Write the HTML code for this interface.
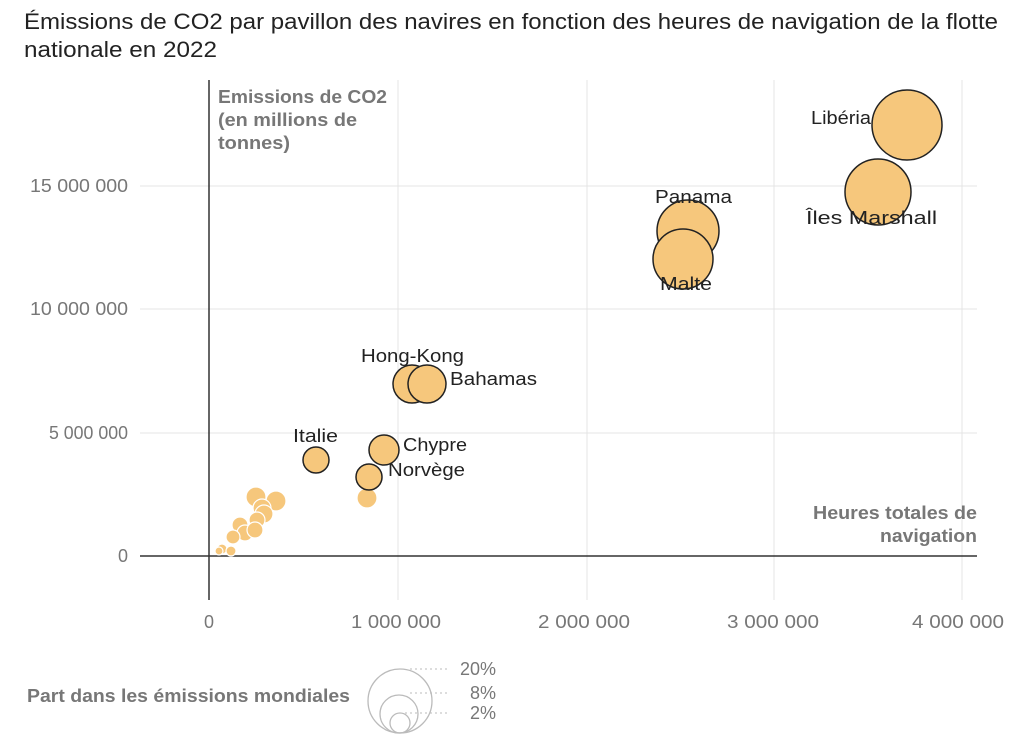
<!DOCTYPE html>
<html><head><meta charset="utf-8"><style>
body{margin:0;background:#fff;font-family:"Liberation Sans",sans-serif;}
</style></head><body>
<svg width="1024" height="739" xmlns="http://www.w3.org/2000/svg" font-family="Liberation Sans, sans-serif">
<text x="24" y="29" font-size="22" fill="#222" textLength="974" lengthAdjust="spacingAndGlyphs">Émissions de CO2 par pavillon des navires en fonction des heures de navigation de la flotte</text>
<text x="24" y="57" font-size="22" fill="#222" textLength="193" lengthAdjust="spacingAndGlyphs">nationale en 2022</text>
<g stroke="#e4e4e4" stroke-width="1">
<line x1="398" y1="80" x2="398" y2="600"/><line x1="587" y1="80" x2="587" y2="600"/><line x1="774" y1="80" x2="774" y2="600"/><line x1="962" y1="80" x2="962" y2="600"/>
<line x1="140" y1="433" x2="977" y2="433"/><line x1="140" y1="309" x2="977" y2="309"/><line x1="140" y1="186" x2="977" y2="186"/>
</g>
<line x1="209" y1="80" x2="209" y2="600" stroke="#333" stroke-width="1.5"/>
<line x1="140" y1="556" x2="977" y2="556" stroke="#333" stroke-width="1.5"/>
<g font-size="18" fill="#777">
<text x="128" y="562" text-anchor="end">0</text>
<text x="128" y="439" text-anchor="end" textLength="79" lengthAdjust="spacingAndGlyphs">5 000 000</text>
<text x="128" y="315" text-anchor="end" textLength="98" lengthAdjust="spacingAndGlyphs">10 000 000</text>
<text x="128" y="192" text-anchor="end" textLength="98" lengthAdjust="spacingAndGlyphs">15 000 000</text>
<text x="209" y="628" text-anchor="middle">0</text>
<text x="351" y="628" textLength="90" lengthAdjust="spacingAndGlyphs">1 000 000</text>
<text x="538" y="628" textLength="92" lengthAdjust="spacingAndGlyphs">2 000 000</text>
<text x="727" y="628" textLength="92" lengthAdjust="spacingAndGlyphs">3 000 000</text>
<text x="912" y="628" textLength="92" lengthAdjust="spacingAndGlyphs">4 000 000</text>
</g>
<g font-size="18" font-weight="bold" fill="#777">
<text x="218" y="103" textLength="169" lengthAdjust="spacingAndGlyphs">Emissions de CO2</text>
<text x="218" y="126" textLength="139" lengthAdjust="spacingAndGlyphs">(en millions de</text>
<text x="218" y="149" textLength="72" lengthAdjust="spacingAndGlyphs">tonnes)</text>
<text x="813" y="519" textLength="164" lengthAdjust="spacingAndGlyphs">Heures totales de</text>
<text x="880" y="542" textLength="97" lengthAdjust="spacingAndGlyphs">navigation</text>
</g>
<g fill="#f6c77c" stroke="#fff" stroke-width="1.2">
<circle cx="367" cy="498" r="10"/><circle cx="256" cy="497" r="10"/><circle cx="276" cy="501" r="10"/>
<circle cx="262" cy="508" r="9"/><circle cx="264" cy="514" r="9"/><circle cx="257" cy="520" r="8"/>
<circle cx="240" cy="525" r="8"/><circle cx="245" cy="533" r="8"/><circle cx="255" cy="530" r="8"/>
<circle cx="233" cy="537" r="7"/><circle cx="222" cy="549" r="5"/><circle cx="219" cy="551" r="4"/><circle cx="231" cy="551" r="5"/>
</g>
<g fill="#f6c77c" stroke="#222" stroke-width="1.5">
<circle cx="907" cy="125" r="35"/><circle cx="878" cy="192" r="33"/>
<circle cx="688" cy="231" r="31"/><circle cx="683" cy="259" r="30"/>
<circle cx="412" cy="384" r="19"/><circle cx="427" cy="384" r="19"/>
<circle cx="384" cy="450" r="15"/><circle cx="369" cy="477" r="13"/><circle cx="316" cy="460" r="13"/>
</g>
<g font-size="18" fill="#222">
<text x="811" y="124" textLength="60" lengthAdjust="spacingAndGlyphs">Libéria</text>
<text x="806" y="224" textLength="131" lengthAdjust="spacingAndGlyphs">Îles Marshall</text>
<text x="655" y="203" textLength="77" lengthAdjust="spacingAndGlyphs">Panama</text>
<text x="660" y="290" textLength="52" lengthAdjust="spacingAndGlyphs">Malte</text>
<text x="361" y="362" textLength="103" lengthAdjust="spacingAndGlyphs">Hong-Kong</text>
<text x="450" y="385" textLength="87" lengthAdjust="spacingAndGlyphs">Bahamas</text>
<text x="403" y="451" textLength="64" lengthAdjust="spacingAndGlyphs">Chypre</text>
<text x="388" y="476" textLength="77" lengthAdjust="spacingAndGlyphs">Norvège</text>
<text x="293" y="442" textLength="45" lengthAdjust="spacingAndGlyphs">Italie</text>
</g>
<text x="27" y="702" font-size="18" font-weight="bold" fill="#777" textLength="323" lengthAdjust="spacingAndGlyphs">Part dans les émissions mondiales</text>
<g fill="none" stroke="#bbb" stroke-width="1.3">
<circle cx="400" cy="701" r="32"/><circle cx="399" cy="714" r="19"/><circle cx="400" cy="723" r="10"/>
</g>
<g stroke="#bbb" stroke-dasharray="2,3">
<line x1="410" y1="669" x2="447" y2="669"/><line x1="410" y1="693" x2="447" y2="693"/><line x1="405" y1="713" x2="447" y2="713"/>
</g>
<g font-size="18" fill="#777" text-anchor="end">
<text x="496" y="675">20%</text><text x="496" y="699">8%</text><text x="496" y="719">2%</text>
</g>
</svg>
</body></html>
